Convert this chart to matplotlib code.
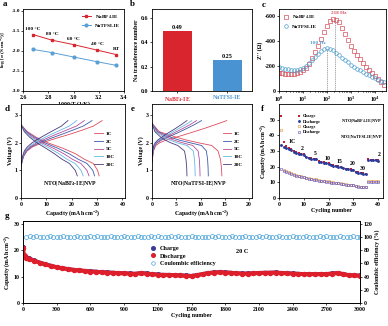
import matplotlib
matplotlib.use("Agg")
import matplotlib.pyplot as plt
from matplotlib.lines import Line2D

plt.rcParams["font.family"] = ["Liberation Serif", "DejaVu Serif"]
plt.rcParams["font.weight"] = "bold"
plt.rcParams["axes.labelweight"] = "bold"
plt.rcParams["font.size"] = 4.2
plt.rcParams["axes.linewidth"] = 0.6
plt.rcParams["xtick.major.width"] = 0.5
plt.rcParams["ytick.major.width"] = 0.5
plt.rcParams["xtick.major.size"] = 1.6
plt.rcParams["ytick.major.size"] = 1.6
plt.rcParams["xtick.minor.size"] = 0.9
plt.rcParams["ytick.minor.size"] = 0.9
plt.rcParams["xtick.major.pad"] = 1.2
plt.rcParams["ytick.major.pad"] = 1.0
plt.rcParams["axes.labelpad"] = 1.0
plt.rcParams["axes.unicode_minus"] = False
plt.rcParams["mathtext.default"] = "regular"

RED = "#d9262e"
BLUE = "#4a93d3"

# ---- a: conductivity vs 1000/T
invT = [2.68, 2.83, 3.00, 3.19, 3.34]
temp_labels = ["100 °C", "80 °C", "60 °C", "40 °C", "RT"]
logsig_bf4 = [-1.59, -1.73, -1.84, -1.98, -2.09]
logsig_tfsi = [-1.96, -2.04, -2.15, -2.27, -2.36]

# ---- b: transference number
electrolytes = ["NaBF$_4$-IE", "NaTFSI-IE"]
t_na = [0.49, 0.25]

# ---- c: imaginary impedance vs frequency
freq = [1, 1.33, 1.78, 2.37, 3.16, 4.22, 5.62, 7.50,
        10, 13.3, 17.8, 23.7, 31.6, 42.2, 56.2, 75.0,
        100, 133, 178, 237, 316, 422, 562, 750,
        1000, 1330, 1780, 2370, 3160, 4220, 5620, 7500,
        10000, 13300, 17800, 23700]
zim_bf4 = [146, 142, 139, 137, 136, 137, 141, 150,
           165, 188, 220, 262, 310, 365, 422, 478,
           527, 560, 578, 575, 552, 510, 458, 410,
           365, 325, 290, 258, 225, 195, 165, 145,
           120, 95, 70, 45]
zim_tfsi = [192, 186, 180, 175, 172, 171, 173, 178,
            188, 203, 222, 247, 274, 300, 322, 338,
            346, 342, 328, 308, 288, 268, 248, 230,
            212, 196, 181, 166, 152, 139, 126, 113,
            101, 90, 80, 71]

# ---- d / e: charge-discharge profiles
rates = ["1C", "2C", "5C", "10C", "20C"]
rate_colors = ["#de4b5c", "#3d5aa8", "#b54c9c", "#67b9e0", "#4b3a7c"]

d_chg_v = [1.15, 1.5, 1.7, 1.85, 2.0, 2.15, 2.3, 2.45, 2.6, 2.8]
d_chg_cap = [
    [0, 1.0, 2.4, 4.6, 8.5, 13.5, 19.0, 24.0, 28.5, 32.0],
    [0, 0.9, 2.1, 4.0, 7.3, 11.5, 16.0, 20.3, 24.5, 28.0],
    [0, 0.8, 1.8, 3.5, 6.3, 9.9, 13.8, 17.8, 21.8, 25.0],
    [0, 0.7, 1.6, 3.0, 5.4, 8.5, 11.9, 15.4, 19.0, 22.0],
    [0, 0.6, 1.3, 2.5, 4.4, 7.0, 9.9, 12.9, 15.9, 18.5],
]
d_dis_v = [2.65, 2.4, 2.2, 2.0, 1.8, 1.6, 1.4, 1.25, 1.0, 0.8]
d_dis_cap = [
    [0, 2.5, 6.0, 10.5, 16.5, 21.5, 25.0, 28.5, 30.2, 30.8],
    [0, 2.2, 5.3, 9.3, 14.5, 19.0, 22.6, 26.0, 28.3, 29.0],
    [0, 1.9, 4.6, 8.2, 12.8, 16.9, 20.3, 23.6, 26.0, 26.8],
    [0, 1.6, 4.0, 7.2, 11.3, 15.0, 18.2, 21.3, 23.7, 24.5],
    [0, 1.3, 3.4, 6.2, 9.8, 13.2, 16.2, 19.1, 21.4, 22.2],
]

e_chg_v = [1.3, 1.7, 1.9, 2.0, 2.1, 2.2, 2.35, 2.5, 2.65, 2.8]
e_chg_cap = [
    [0, 0.3, 0.8, 1.6, 3.0, 5.0, 7.8, 10.5, 13.0, 15.4],
    [0, 0.25, 0.6, 1.1, 2.0, 3.3, 5.2, 7.0, 8.7, 10.2],
    [0, 0.2, 0.5, 0.95, 1.7, 2.8, 4.5, 6.2, 7.8, 9.2],
    [0, 0.2, 0.45, 0.8, 1.45, 2.4, 3.9, 5.4, 6.9, 8.2],
    [0, 0.15, 0.35, 0.65, 1.2, 2.0, 3.3, 4.7, 6.0, 7.2],
]
e_dis_v = [2.7, 2.4, 2.2, 2.1, 2.0, 1.9, 1.7, 1.4, 1.1, 0.8]
e_dis_cap = [
    [0, 1.5, 5.0, 7.0, 9.5, 12.3, 13.6, 14.1, 14.3, 14.4],
    [0, 1.2, 3.8, 5.5, 7.8, 10.2, 11.2, 11.45, 11.55, 11.6],
    [0, 1.0, 3.0, 4.4, 6.2, 8.4, 9.5, 9.75, 9.85, 9.9],
    [0, 0.8, 2.4, 3.6, 5.1, 7.2, 8.5, 8.75, 8.85, 8.9],
    [0, 0.6, 1.8, 2.7, 3.8, 5.3, 6.7, 7.0, 7.15, 7.2],
]

# ---- f: rate performance
f_cycles = list(range(1, 41))
f_rate_labels = ["1C", "2", "5", "10", "15", "20", "30", "2"]
f_label_x = [5.5, 9.5, 14.7, 19.7, 24.5, 29.7, 33.7, 40.5]
f_label_y = [34.5, 29.8, 26.8, 23.8, 22.0, 20.2, 17.0, 26.3]
bf4_chg = [52.5, 35.5, 33.0, 32.0, 31.3,
           30.0, 29.3, 28.8, 28.3, 27.9,
           26.4, 25.8, 25.4, 25.1, 24.8,
           23.5, 23.0, 22.7, 22.5, 22.2,
           21.3, 20.8, 20.5, 20.3, 20.1,
           19.3, 18.8, 18.5, 18.2, 18.0,
           16.8, 16.3, 16.0, 15.8, 15.6,
           24.9, 24.5, 24.3, 24.2, 24.0]
bf4_dis = [34.0, 32.5, 31.8, 31.2, 30.6,
           29.5, 28.9, 28.4, 28.0, 27.6,
           26.0, 25.5, 25.2, 24.9, 24.6,
           23.2, 22.8, 22.5, 22.3, 22.0,
           21.0, 20.6, 20.3, 20.1, 19.9,
           19.0, 18.6, 18.3, 18.0, 17.8,
           16.5, 16.1, 15.8, 15.6, 15.4,
           24.5, 24.3, 24.1, 24.0, 23.8]
tfsi_chg = [43.5, 18.0, 17.0, 16.4, 16.0,
            15.2, 14.7, 14.3, 14.0, 13.7,
            12.9, 12.6, 12.3, 12.1, 11.9,
            11.3, 11.1, 10.9, 10.7, 10.6,
            10.1, 9.9, 9.7, 9.6, 9.5,
            9.0, 8.8, 8.6, 8.5, 8.4,
            7.7, 7.5, 7.3, 7.2, 7.1,
            10.6, 10.6, 10.7, 10.7, 10.8]
tfsi_dis = [18.5, 17.5, 16.5, 16.0, 15.6,
            14.8, 14.3, 14.0, 13.7, 13.4,
            12.6, 12.3, 12.0, 11.8, 11.6,
            11.0, 10.8, 10.6, 10.4, 10.3,
            9.8, 9.6, 9.4, 9.3, 9.2,
            8.7, 8.5, 8.3, 8.2, 8.1,
            7.4, 7.2, 7.0, 6.9, 6.8,
            10.2, 10.3, 10.3, 10.4, 10.4]

# ---- g: long cycling at 20 C
g_cycles = [1, 5, 15, 30] + list(range(50, 3001, 50))
g_dis = [20.8, 18.2, 17.6, 17.2,
         16.8, 16.0, 15.2, 14.6, 14.0, 13.5, 13.1, 12.8, 12.5, 12.3,
         12.1, 11.9, 11.8, 11.6, 11.5, 11.4, 11.3, 11.2, 11.1, 11.0,
         11.3, 11.1, 10.9, 10.7, 10.6, 10.6, 10.5, 10.4, 10.3, 10.2,
         10.5, 10.9, 11.3, 11.5, 11.6, 11.5, 11.4, 11.2, 11.1, 11.1,
         11.2, 11.3, 11.4, 11.4, 11.5, 11.3, 11.2, 11.1, 11.0, 10.9,
         10.9, 10.9, 10.9, 10.9, 11.1, 11.3, 10.9, 10.5, 10.4, 10.3]
g_chg = [21.0, 18.3, 17.7, 17.3,
         16.9, 16.1, 15.3, 14.7, 14.1, 13.6, 13.2, 12.9, 12.6, 12.4,
         12.2, 12.0, 11.9, 11.7, 11.6, 11.5, 11.4, 11.3, 11.2, 11.1,
         11.4, 11.2, 11.0, 10.8, 10.7, 10.7, 10.6, 10.5, 10.4, 10.3,
         10.6, 11.0, 11.4, 11.6, 11.7, 11.6, 11.5, 11.3, 11.2, 11.2,
         11.3, 11.4, 11.5, 11.5, 11.6, 11.4, 11.3, 11.2, 11.1, 11.0,
         11.0, 11.0, 11.0, 11.0, 11.2, 11.4, 11.0, 10.6, 10.5, 10.4]
ce_cycles = [1] + list(range(30, 3001, 30))
ce_g = [85.0,
        99.4, 100.6, 99.8, 100.9, 99.5, 100.3, 99.2, 100.7, 99.9, 100.4,
        99.6, 101.0, 99.3, 100.5, 99.8, 100.8, 99.4, 100.2, 99.7, 100.6,
        99.5, 100.9, 99.9, 100.3, 99.2, 100.7, 99.6, 100.4, 99.8, 101.1,
        99.4, 100.5, 99.7, 100.8, 99.3, 100.2, 99.9, 100.6, 99.5, 100.9,
        99.8, 100.3, 99.4, 100.7, 99.6, 101.0, 99.7, 100.4, 99.3, 100.8,
        99.9, 100.5, 99.5, 100.2, 99.8, 100.9, 99.4, 100.6, 99.7, 100.3,
        99.6, 100.8, 99.2, 100.5, 99.9, 100.7, 99.5, 100.4, 99.8, 101.0,
        99.4, 100.6, 99.7, 100.2, 99.5, 100.9, 99.8, 100.3, 99.6, 100.7,
        99.3, 100.5, 99.9, 100.8, 99.4, 100.4, 99.7, 101.2, 99.8, 100.6,
        99.5, 100.3, 99.6, 100.9, 99.4, 100.5, 99.8, 100.7, 99.6, 100.4]

W, H = 388, 326


def box(x0, y0, x1, y1):
    return [x0 / W, 1 - y1 / H, (x1 - x0) / W, (y1 - y0) / H]


fig = plt.figure(figsize=(W / 100, H / 100), dpi=100)
ax_a = fig.add_axes(box(23, 9, 124, 91))
ax_b = fig.add_axes(box(152, 9, 252, 91))
ax_c = fig.add_axes(box(279, 9, 386, 91))
ax_d = fig.add_axes(box(21, 104, 125, 198))
ax_e = fig.add_axes(box(152, 104, 252, 198))
ax_f = fig.add_axes(box(279, 104, 383, 198))
ax_g = fig.add_axes(box(23, 221, 360, 303))

for lab, (px, py) in zip("abcdefg", [(3, 4), (130, 4), (262, 5), (5, 109),
                                     (131, 109), (261, 109), (5, 216)]):
    fig.text(px / W, 1 - py / H, lab, fontsize=6.5, fontweight="bold",
             va="center", ha="left")

# a
ax_a.plot(invT, logsig_bf4, "-s", color=RED, ms=2, lw=0.7, label="NaBF$_4$-IE")
ax_a.plot(invT, logsig_tfsi, "-o", color="#5b9fd4", ms=2, lw=0.7, label="NaTFSI-IE")
for x, y, t in zip(invT, logsig_bf4, temp_labels):
    ax_a.text(x, y + 0.1, t, ha="center", va="bottom", fontsize=3.8)
ax_a.set_xlim(2.6, 3.4)
ax_a.set_ylim(-3.0, -0.95)
ax_a.set_xticks([2.6, 2.8, 3.0, 3.2, 3.4])
ax_a.set_yticks([-3.0, -2.5, -2.0, -1.5, -1.0])
ax_a.tick_params(axis="y", labelsize=3.9, pad=0.6)
ax_a.set_xlabel("1000/T (1/K)")
ax_a.set_ylabel("log [σ (S cm$^{-1}$)]", fontsize=3.9)
ax_a.yaxis.set_label_coords(-0.14, 0.5)
ax_a.legend(loc="upper right", frameon=False, fontsize=3.8, handlelength=1.6,
            borderaxespad=0.4, labelspacing=0.5)

# b
ax_b.bar([0, 1], t_na, width=0.58, color=[RED, BLUE])
for xb, v in zip([0, 1], t_na):
    ax_b.text(xb, v + 0.008, f"{v:.2f}", ha="center", va="bottom", fontsize=4.4)
ax_b.set_xlim(-0.5, 1.5)
ax_b.set_ylim(0, 0.67)
ax_b.set_yticks([0.0, 0.2, 0.4, 0.6])
ax_b.set_xticks([0, 1])
ax_b.set_xticklabels(electrolytes)
for tl, col in zip(ax_b.get_xticklabels(), [RED, BLUE]):
    tl.set_color(col)
ax_b.set_xlabel("Electrolyte")
ax_b.set_ylabel("Na transference number")

# c
ax_c.plot(freq, zim_bf4, "s", mfc="none", mec="#d4505e", ms=2.6, mew=0.5,
          label="NaBF$_4$-IE")
ax_c.plot(freq, zim_tfsi, "o", mfc="none", mec="#4f9fd2", ms=2.6, mew=0.5,
          label="NaTFSI-IE")
ax_c.set_xscale("log")
ax_c.set_xlim(1, 2.8e4)
ax_c.set_ylim(0, 660)
ax_c.plot([218, 218], [0, 578], ls=(0, (1.5, 1.2)), color="#777777", lw=0.5)
ax_c.plot([100, 100], [0, 346], ls=(0, (1.5, 1.2)), color="#777777", lw=0.5)
ax_c.text(300, 612, "218 Hz", color="#d4505e", ha="center", va="bottom", fontsize=3.8)
ax_c.text(40, 372, "100 Hz", color="#4f9fd2", ha="center", va="bottom", fontsize=3.8)
ax_c.set_yticks([0, 200, 400, 600])
ax_c.set_yticklabels(["0", "-200", "-400", "-600"])
ax_c.set_xlabel("Frequency (Hz)")
ax_c.set_ylabel("Z'' (Ω)")
ax_c.legend(loc="upper left", frameon=False, fontsize=3.8, handlelength=1.0,
            borderaxespad=0.5, labelspacing=0.6, handletextpad=0.5)


def profiles(ax, chg_v, chg_cap, dis_v, dis_cap, title):
    for rate, col, qc, qd in zip(rates, rate_colors, chg_cap, dis_cap):
        ax.plot(qc, chg_v, color=col, lw=0.6)
        ax.plot(qd, dis_v, color=col, lw=0.6, label=rate)
    ax.set_ylim(0, 3.4)
    ax.set_yticks([0, 1, 2, 3])
    ax.set_xlabel("Capacity (mAh cm$^{-2}$)")
    ax.set_ylabel("Voltage (V)")
    ax.text(0.47, 0.15, title, transform=ax.transAxes, ha="center",
            va="center", fontsize=4.2)
    ax.legend(loc="center left", bbox_to_anchor=(0.66, 0.52), frameon=False,
              fontsize=3.8, handlelength=1.6, labelspacing=0.55,
              handletextpad=0.5)


profiles(ax_d, d_chg_v, d_chg_cap, d_dis_v, d_dis_cap, "NTO|NaBF$_4$-IE|NVP")
ax_d.set_xlim(0, 41)
ax_d.set_xticks([0, 10, 20, 30, 40])
profiles(ax_e, e_chg_v, e_chg_cap, e_dis_v, e_dis_cap, "NTO|NaTFSI-IE|NVP")
ax_e.set_xlim(0, 20.6)
ax_e.set_xticks([0, 5, 10, 15, 20])

# f
ax_f.plot(f_cycles, tfsi_chg, "s", mfc="none", mec="#e39a4a", ms=2.0, mew=0.45,
          label="Charge")
ax_f.plot(f_cycles, tfsi_dis, "s", mfc="none", mec="#6d5fc6", ms=2.0, mew=0.45,
          label="Discharge")
ax_f.plot(f_cycles, bf4_chg, "s", color="#c81e2c", ms=2.0, mew=0, label="Charge")
ax_f.plot(f_cycles, bf4_dis, "o", color="#2b3b9c", ms=2.1, mew=0, label="Discharge")
for t, x, y in zip(f_rate_labels, f_label_x, f_label_y):
    ax_f.text(x, y, t, ha="center", va="bottom", fontsize=4.2)
h = ax_f.get_legend_handles_labels()[0]
ax_f.legend([h[2], h[3], h[0], h[1]], ["Charge", "Discharge", "Charge", "Discharge"],
            loc="upper left", bbox_to_anchor=(0.17, 0.9), frameon=False,
            fontsize=3.1, handlelength=0.9, labelspacing=0.3, handletextpad=0.4,
            borderaxespad=0.0, borderpad=0.2)
ax_f.text(0.995, 0.815, "NTO|NaBF$_4$-IE|NVP", transform=ax_f.transAxes,
          ha="right", va="center", fontsize=3.2)
ax_f.text(0.995, 0.645, "NTO|NaTFSI-IE|NVP", transform=ax_f.transAxes,
          ha="right", va="center", fontsize=3.2)
ax_f.set_xlim(0, 42)
ax_f.set_ylim(0, 60)
ax_f.set_xticks([0, 10, 20, 30, 40])
ax_f.set_yticks([0, 10, 20, 30, 40, 50])
ax_f.set_xlabel("Cycling number")
ax_f.set_ylabel("Capacity (mAh cm$^{-2}$)")

# g
ax_g2 = ax_g.twinx()
ax_g2.plot(ce_cycles, ce_g, "o", mfc="none", mec="#4aa3da", ms=2.9, mew=0.5,
           label="Coulombic efficiency")
ax_g.plot(g_cycles, g_chg, "-o", color="#3b3a9a", lw=2.6, ms=2.6, label="Charge")
ax_g.plot(g_cycles, g_dis, "-o", color="#de1f2b", lw=2.9, ms=2.9, label="Discharge")
ax_g.set_zorder(ax_g2.get_zorder() + 1)
ax_g.patch.set_visible(False)
ax_g.set_xlim(0, 3000)
ax_g.set_ylim(0, 31)
ax_g2.set_ylim(0, 124)
ax_g.set_xticks(range(0, 3001, 300))
ax_g.set_yticks([0, 10, 20, 30])
ax_g2.set_yticks(range(0, 121, 20))
ax_g.set_xlabel("Cycling number")
ax_g.set_ylabel("Capacity (mAh cm$^{-2}$)")
ax_g2.set_ylabel("Coulombic efficiency (%)")
ax_g.text(0.65, 0.63, "20 C", transform=ax_g.transAxes, ha="center",
          va="center", fontsize=4.6)
leg_handles = [
    Line2D([], [], marker="o", ls="none", color="#3b3a9a", ms=2.6),
    Line2D([], [], marker="o", ls="none", color="#de1f2b", ms=2.6),
    Line2D([], [], marker="o", ls="none", mfc="none", mec="#4aa3da", ms=2.6, mew=0.5),
]
ax_g.legend(leg_handles, ["Charge", "Discharge", "Coulombic efficiency"],
            loc="upper left", bbox_to_anchor=(0.36, 0.76), frameon=False,
            fontsize=4.4, handlelength=1.0, labelspacing=0.3, handletextpad=0.6)

fig.savefig("out.png", dpi=100)
